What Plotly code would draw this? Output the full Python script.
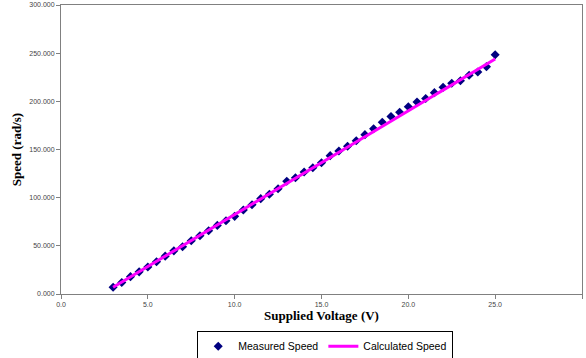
import plotly.graph_objects as go

voltage = [3.0, 3.5, 4.0, 4.5, 5.0, 5.5, 6.0, 6.5, 7.0, 7.5, 8.0, 8.5, 9.0, 9.5, 10.0,
           10.5, 11.0, 11.5, 12.0, 12.5, 13.0, 13.5, 14.0, 14.5, 15.0, 15.5, 16.0, 16.5,
           17.0, 17.5, 18.0, 18.5, 19.0, 19.5, 20.0, 20.5, 21.0, 21.5, 22.0, 22.5, 23.0,
           23.5, 24.0, 24.5, 25.0]
measured_speed = [7.0, 12.0, 18.0, 23.0, 28.0, 33.5, 39.3, 44.8, 49.0, 55.3, 60.5, 65.7,
                  71.2, 76.0, 80.6, 87.2, 92.7, 99.0, 103.5, 109.2, 117.0, 120.7, 126.6,
                  131.1, 136.3, 143.6, 148.4, 153.3, 159.1, 165.4, 171.6, 178.3, 184.2,
                  188.6, 194.4, 199.3, 203.0, 209.0, 214.5, 218.7, 221.4, 227.0, 230.4,
                  236.0, 248.4]
calculated_speed = [7.0, 12.4, 17.8, 23.2, 28.5, 33.9, 39.3, 44.7, 50.1, 55.5, 60.9, 66.2,
                    71.6, 77.0, 82.4, 87.8, 93.2, 98.5, 103.9, 109.3, 114.7, 120.1, 125.5,
                    130.9, 136.2, 141.6, 147.0, 152.4, 157.8, 163.2, 168.6, 173.9, 179.3,
                    184.7, 190.1, 195.5, 200.9, 206.3, 211.6, 217.0, 222.4, 227.8, 233.2,
                    238.6, 244.0]

fig = go.Figure()
fig.add_trace(go.Scatter(x=voltage, y=measured_speed, mode="markers", name="Measured Speed",
                         marker=dict(symbol="diamond", size=7, color="#000080")))
fig.add_trace(go.Scatter(x=voltage, y=calculated_speed, mode="lines", name="Calculated Speed",
                         line=dict(color="#FF00FF", width=3)))

axis_common = dict(showgrid=False, zeroline=False, showline=True, linecolor="#808080",
                   linewidth=1, mirror=True, ticks="outside", ticklen=4, tickcolor="#808080",
                   automargin=False,
                   tickfont=dict(family="Liberation Sans, Arial", size=7, color="#444444"))

fig.update_xaxes(range=[0, 30], dtick=5, tickformat=".1f",
                 title=dict(text="<b>Supplied Voltage (V)</b>", standoff=2,
                            font=dict(family="Liberation Serif, Times New Roman", size=13, color="black")),
                 **axis_common)
fig.update_yaxes(range=[0, 300], dtick=50, tickformat=".3f",
                 title=dict(text="<b>Speed (rad/s)</b>", standoff=4,
                            font=dict(family="Liberation Serif, Times New Roman", size=13, color="black")),
                 **axis_common)

fig.update_layout(
    width=586, height=358,
    margin=dict(l=61, r=4, t=5, b=64, autoexpand=False),
    paper_bgcolor="white", plot_bgcolor="white",
    showlegend=True,
    legend=dict(orientation="h", xref="container", yref="container",
                x=0.555, xanchor="center", y=0.076, yanchor="top",
                bordercolor="black", borderwidth=1, bgcolor="white",
                font=dict(family="Liberation Sans, Arial", size=10.5, color="black"),
                itemwidth=30, tracegroupgap=0),
)

fig.write_html("out.html", config={"displayModeBar": False},
               post_script="document.body.style.margin='0px';")
